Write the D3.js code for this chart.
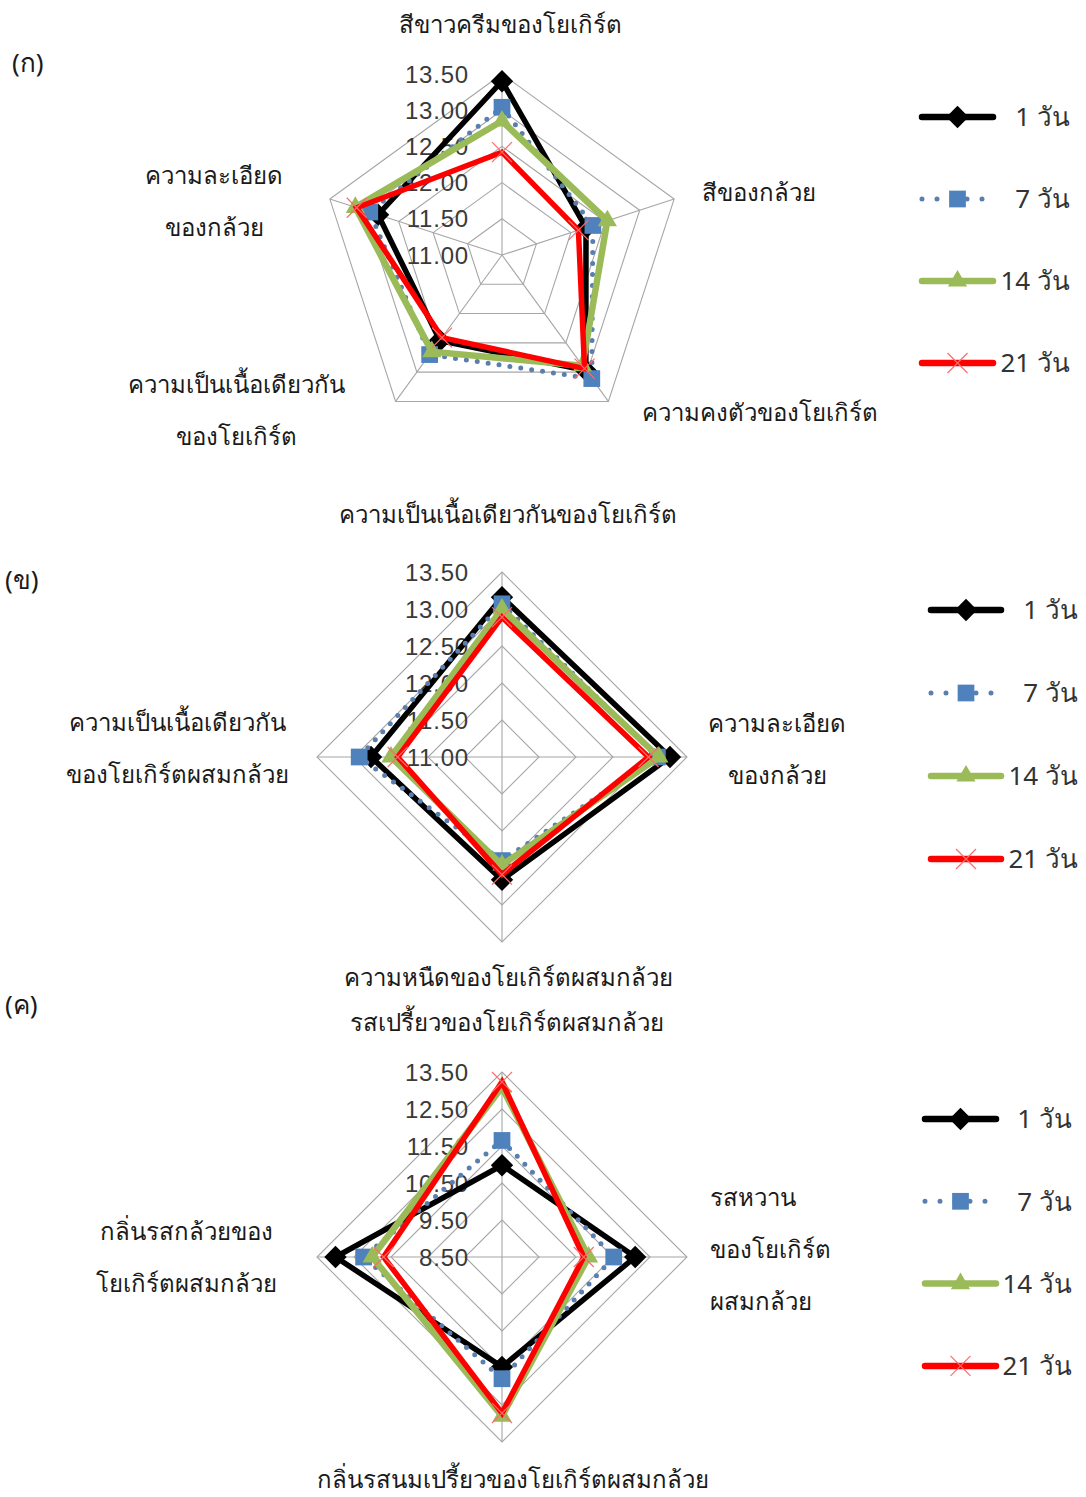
<!DOCTYPE html>
<html>
<head>
<meta charset="utf-8">
<script src="https://cdn.jsdelivr.net/npm/d3@7"></script>
<style>
  html, body { margin: 0; padding: 0; background: #fff; }
  svg { display: block; }
  .thai { font-family: "Noto Sans", "Liberation Sans", "DejaVu Sans", sans-serif; fill: #1a1a1a; }
  .tick { font-family: "Liberation Sans", Arial, sans-serif; fill: #3a3a3a; }
</style>
</head>
<body>
<svg id="chart" width="1086" height="1497"></svg>
<script>
// Storage days shown in every panel
const seriesNames = ["1 วัน", "7 วัน", "14 วัน", "21 วัน"];

// Panel (ก): colour and texture of the yogurt
const catsA = [
  ["สีขาวครีมของโยเกิร์ต"],
  ["สีของกล้วย"],
  ["ความคงตัวของโยเกิร์ต"],
  ["ความเป็นเนื้อเดียวกัน", "ของโยเกิร์ต"],
  ["ความละเอียด", "ของกล้วย"]
];
const day1A  = [13.40, 12.22, 12.97, 12.46, 12.80];
const day7A  = [13.04, 12.32, 13.11, 12.70, 12.92];
const day14A = [12.85, 12.53, 12.89, 12.65, 13.13];
const day21A = [12.42, 12.11, 12.94, 12.41, 13.11];
const ticksA = [11.00, 11.50, 12.00, 12.50, 13.00, 13.50];

// Panel (ข): texture
const catsB = [
  ["ความเป็นเนื้อเดียวกันของโยเกิร์ต"],
  ["ความละเอียด", "ของกล้วย"],
  ["ความหนืดของโยเกิร์ตผสมกล้วย"],
  ["ความเป็นเนื้อเดียวกัน", "ของโยเกิร์ตผสมกล้วย"]
];
const day1B  = [13.16, 13.27, 12.66, 12.77];
const day7B  = [13.07, 13.10, 12.40, 12.93];
const day14B = [13.00, 13.12, 12.46, 12.50];
const day21B = [12.89, 12.98, 12.59, 12.41];
const ticksB = [11.00, 11.50, 12.00, 12.50, 13.00, 13.50];

// Panel (ค): taste and flavour
const catsC = [
  ["รสเปรี้ยวของโยเกิร์ตผสมกล้วย"],
  ["รสหวาน", "ของโยเกิร์ต", "ผสมกล้วย"],
  ["กลิ่นรสนมเปรี้ยวของโยเกิร์ตผสมกล้วย"],
  ["กลิ่นรสกล้วยของ", "โยเกิร์ตผสมกล้วย"]
];
const day1C  = [10.98, 12.10, 11.47, 13.00];
const day7C  = [11.65, 11.52, 11.79, 12.24];
const day14C = [13.09, 10.84, 12.80, 12.01];
const day21C = [13.23, 10.71, 12.72, 11.70];
const ticksC = [8.50, 9.50, 10.50, 11.50, 12.50, 13.50];

const panelLetters = ["(ก)", "(ข)", "(ค)"];

// ---- styling of the four series ----
const styles = [
  { color: "#000000", width: 5.5, dash: null,   marker: "diamond"  },
  { color: "#5a7fae", width: 5,   dash: "0 11", marker: "square"   },
  { color: "#9bbb59", width: 6.5, dash: null,   marker: "triangle" },
  { color: "#ff0000", width: 5.5, dash: null,   marker: "x"        }
];

const svg = d3.select("#chart");

function markerPath(kind) {
  if (kind === "diamond") return d3.symbol(d3.symbolSquare, 250)();
  if (kind === "square") return d3.symbol(d3.symbolSquare, 280)();
  if (kind === "triangle") return d3.symbol(d3.symbolTriangle, 160)();
  const s = 10;
  return `M${-s},${-s}L${s},${s}M${-s},${s}L${s},${-s}`;
}

function drawMarker(g, kind, x, y, color) {
  const p = g.append("path")
    .attr("d", markerPath(kind))
    .attr("transform", `translate(${x},${y})` + (kind === "diamond" ? " rotate(45)" : ""));
  if (kind === "x") {
    p.attr("fill", "none").attr("stroke", "#ff6b6b").attr("stroke-width", 1.2);
  } else if (kind === "square") {
    p.attr("fill", "#4f81bd");
  } else {
    p.attr("fill", color);
  }
}

function drawRadar(cfg) {
  const g = svg.append("g");
  const n = cfg.cats.length;
  const r = d3.scaleLinear().domain([cfg.ticks[0], cfg.ticks[cfg.ticks.length - 1]]).range([0, cfg.R]);
  const ang = i => i * 2 * Math.PI / n;
  const px = (i, v) => cfg.cx + r(v) * Math.sin(ang(i));
  const py = (i, v) => cfg.cy - r(v) * Math.cos(ang(i));

  // grid rings
  cfg.ticks.slice(1).forEach(t => {
    const pts = d3.range(n).map(i => [px(i, t), py(i, t)]);
    g.append("polygon")
      .attr("points", pts.map(p => p.join(",")).join(" "))
      .attr("fill", "none").attr("stroke", "#a6a6a6").attr("stroke-width", 1.1);
  });
  // spokes
  d3.range(n).forEach(i => {
    g.append("line")
      .attr("x1", cfg.cx).attr("y1", cfg.cy)
      .attr("x2", px(i, cfg.ticks[cfg.ticks.length - 1]))
      .attr("y2", py(i, cfg.ticks[cfg.ticks.length - 1]))
      .attr("stroke", "#a6a6a6").attr("stroke-width", 1.1);
  });
  // value labels along the vertical axis
  g.selectAll("text.tick").data(cfg.ticks).join("text")
    .attr("class", "tick")
    .attr("x", cfg.cx - 33)
    .attr("y", d => cfg.cy - r(d))
    .attr("dy", "0.36em")
    .attr("text-anchor", "end")
    .attr("font-size", 24)
    .attr("letter-spacing", 0.8)
    .text(d3.format(".2f"));

  // series polygons
  const line = d3.lineRadial()
    .angle((d, i) => ang(i))
    .radius(d => r(d))
    .curve(d3.curveLinearClosed);
  cfg.series.forEach((vals, s) => {
    const st = styles[s];
    const sg = g.append("g");
    sg.append("path")
      .attr("d", line(vals))
      .attr("transform", `translate(${cfg.cx},${cfg.cy})`)
      .attr("fill", "none")
      .attr("stroke", st.color)
      .attr("stroke-width", st.width)
      .attr("stroke-linejoin", "miter")
      .attr("stroke-linecap", st.dash ? "round" : "butt")
      .attr("stroke-dasharray", st.dash);
    vals.forEach((v, i) => drawMarker(sg, st.marker, px(i, v), py(i, v), st.color));
  });

  // category labels
  cfg.cats.forEach((lines, i) => {
    const L = cfg.labelPos[i];
    const t = g.append("text").attr("class", "thai")
      .attr("font-size", 24)
      .attr("text-anchor", L.anchor || "middle");
    lines.forEach((s, k) => {
      t.append("tspan").attr("x", L.x).attr("y", L.y + k * 52).attr("dy", "0.35em").text(s);
    });
  });

  // panel letter
  svg.append("text").attr("class", "thai")
    .attr("x", cfg.letter[0]).attr("y", cfg.letter[1]).attr("dy", "0.35em")
    .attr("font-size", 26).text(cfg.letterText);

  // legend
  const lg = svg.append("g");
  seriesNames.forEach((name, s) => {
    const st = styles[s];
    const y = cfg.legend.y0 + s * cfg.legend.dy;
    lg.append("line")
      .attr("x1", cfg.legend.x0).attr("x2", cfg.legend.x1)
      .attr("y1", y).attr("y2", y)
      .attr("stroke", st.color)
      .attr("stroke-width", st.dash ? 5 : 6.5)
      .attr("stroke-linecap", "round")
      .attr("stroke-dasharray", st.dash ? "0 15" : null);
    drawMarker(lg, st.marker, (cfg.legend.x0 + cfg.legend.x1) / 2, y, st.color);
    lg.append("text")
      .attr("x", cfg.legend.tx).attr("y", y).attr("dy", "0.36em")
      .attr("text-anchor", "end").attr("font-size", 26)
      .style("font-family", "\"Noto Sans\", \"Liberation Sans\", sans-serif")
      .style("fill", "#333")
      .text(name);
  });
}

drawRadar({
  cx: 502, cy: 255, R: 181,
  cats: catsA, ticks: ticksA,
  series: [day1A, day7A, day14A, day21A],
  labelPos: [
    { x: 510, y: 25 }, { x: 759, y: 193 }, { x: 760, y: 413 },
    { x: 236, y: 385 }, { x: 214, y: 176 }
  ],
  letter: [12, 63], letterText: panelLetters[0],
  legend: { x0: 922, x1: 993, y0: 117, dy: 82, tx: 1070 }
});

drawRadar({
  cx: 502, cy: 757, R: 185,
  cats: catsB, ticks: ticksB,
  series: [day1B, day7B, day14B, day21B],
  labelPos: [
    { x: 508, y: 515 }, { x: 777, y: 724 }, { x: 508, y: 978 }, { x: 177, y: 723 }
  ],
  letter: [5, 580], letterText: panelLetters[1],
  legend: { x0: 931, x1: 1001, y0: 610, dy: 83, tx: 1078 }
});

drawRadar({
  cx: 502, cy: 1257, R: 185,
  cats: catsC, ticks: ticksC,
  series: [day1C, day7C, day14C, day21C],
  labelPos: [
    { x: 507, y: 1023 }, { x: 710, y: 1198, anchor: "start" },
    { x: 513, y: 1480 }, { x: 186, y: 1232 }
  ],
  letter: [5, 1005], letterText: panelLetters[2],
  legend: { x0: 925, x1: 996, y0: 1119, dy: 82.3, tx: 1072 }
});
</script>
</body>
</html>
